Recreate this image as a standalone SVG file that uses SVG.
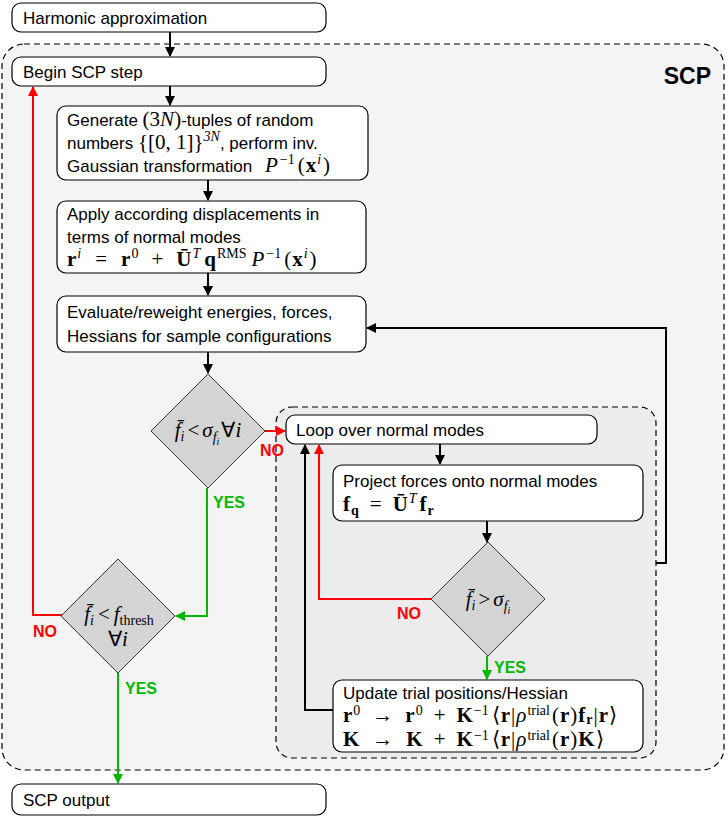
<svg xmlns="http://www.w3.org/2000/svg" width="728" height="818" viewBox="0 0 728 818">
<style>
.box{fill:#fff;stroke:#000;stroke-width:1.2}
.dia{fill:#d4d4d4;stroke:#333;stroke-width:1}
.t{font-family:"Liberation Sans",Arial,sans-serif;font-size:17px;fill:#000}
.m{font-family:"Liberation Serif","Times New Roman",serif;font-size:21px;fill:#000}
.i{font-style:italic}
.b{font-weight:bold}
.s{font-size:14px}
.lbl{font-family:"Liberation Sans",Arial,sans-serif;font-size:16px;font-weight:bold}
.k{fill:none;stroke:#000;stroke-width:2}
.r{fill:none;stroke:#ff0000;stroke-width:2}
.g{fill:none;stroke:#00b800;stroke-width:2}
</style>
<defs>
<marker id="ak" markerWidth="10" markerHeight="10" refX="9" refY="5" orient="auto" markerUnits="userSpaceOnUse"><path d="M0,0 L10,5 L0,10 z" fill="#000"/></marker>
<marker id="ar" markerWidth="10" markerHeight="10" refX="9" refY="5" orient="auto" markerUnits="userSpaceOnUse"><path d="M0,0 L10,5 L0,10 z" fill="#ff0000"/></marker>
<marker id="ag" markerWidth="10" markerHeight="10" refX="9" refY="5" orient="auto" markerUnits="userSpaceOnUse"><path d="M0,0 L10,5 L0,10 z" fill="#00b800"/></marker>
</defs>
<rect x="0" y="0" width="728" height="818" fill="#fff"/>

<g id="scp-region">
<rect x="2" y="44" width="722" height="726" rx="22" fill="#f4f4f4" stroke="#000" stroke-width="1.2" stroke-dasharray="6,4"/>
<text x="711" y="84" text-anchor="end" font-family="Liberation Sans,Arial,sans-serif" font-size="23" font-weight="bold">SCP</text>
</g>
<g id="loop-region">
<rect x="276" y="407" width="380" height="351" rx="16" fill="#ececec" stroke="#000" stroke-width="1.2" stroke-dasharray="6,4"/>
</g>

<g id="connectors">
<path class="k" d="M170,32 V56" marker-end="url(#ak)"/>
<path class="k" d="M170,86 V105" marker-end="url(#ak)"/>
<path class="k" d="M208,180 V200" marker-end="url(#ak)"/>
<path class="k" d="M208,273 V295" marker-end="url(#ak)"/>
<path class="k" d="M208,352 V373" marker-end="url(#ak)"/>
<path class="r" d="M265,431 H285" marker-end="url(#ar)"/>
<path class="g" d="M207,488 V616 H176" marker-end="url(#ag)"/>
<path class="r" d="M62,615 H33 V87" marker-end="url(#ar)"/>
<path class="g" d="M118,672 V783" marker-end="url(#ag)"/>
<path class="k" d="M440,444 V464" marker-end="url(#ak)"/>
<path class="k" d="M487,521 V542" marker-end="url(#ak)"/>
<path class="r" d="M431,599 H319 V445" marker-end="url(#ar)"/>
<path class="g" d="M487,656 V679" marker-end="url(#ag)"/>
<path class="k" d="M333,710 H305 V445" marker-end="url(#ak)"/>
<path class="k" d="M656,563 H666 V328 H367" marker-end="url(#ak)"/>
<text class="lbl" x="260" y="456" fill="#ff0000">NO</text>
<text class="lbl" x="213" y="508" fill="#00b800">YES</text>
<text class="lbl" x="33" y="637" fill="#ff0000">NO</text>
<text class="lbl" x="125" y="694" fill="#00b800">YES</text>
<text class="lbl" x="397" y="619" fill="#ff0000">NO</text>
<text class="lbl" x="494" y="673" fill="#00b800">YES</text>
</g>

<g id="harmonic">
<rect class="box" x="12" y="3" width="314" height="29" rx="9"/>
<text class="t" x="23" y="24">Harmonic approximation</text>
</g>
<g id="begin">
<rect class="box" x="12" y="57" width="314" height="29" rx="9"/>
<text class="t" x="23" y="78">Begin SCP step</text>
</g>
<g id="generate">
<rect class="box" x="57" y="106" width="311" height="74" rx="9"/>
<text class="t" x="67" y="126">Generate <tspan class="m">(3<tspan class="i">N</tspan>)</tspan>-tuples of random</text>
<text class="t" x="67" y="149">numbers <tspan class="m">{[0, 1]}<tspan class="i s" dy="-8">3N</tspan></tspan><tspan dy="8">, perform inv.</tspan></text>
<text class="t" x="67" y="172">Gaussian transformation <tspan class="m"><tspan class="i" dx="8">P</tspan><tspan class="s" dy="-8" dx="2">−1</tspan><tspan dy="8" dx="3">(</tspan><tspan class="b" dx="1">x</tspan><tspan class="i s" dy="-8" dx="1">i</tspan><tspan dy="8" dx="2">)</tspan></tspan></text>
</g>
<g id="apply">
<rect class="box" x="57" y="201" width="309" height="72" rx="9"/>
<text class="t" x="67" y="220">Apply according displacements in</text>
<text class="t" x="67" y="243">terms of normal modes</text>
<text class="m" x="67" y="266"><tspan class="b">r</tspan><tspan class="i s" dy="-8" dx="1">i</tspan><tspan dy="8" dx="14">=</tspan><tspan class="b" dx="14">r</tspan><tspan class="s" dy="-8" dx="1">0</tspan><tspan dy="8" dx="13">+</tspan><tspan class="b" dx="13">Ū</tspan><tspan class="i s" dy="-8" dx="1">T</tspan><tspan class="b" dy="8" dx="4">q</tspan><tspan class="s" dy="-8" dx="1">RMS</tspan><tspan class="i" dy="8" dx="5">P</tspan><tspan class="s" dy="-8" dx="2">−1</tspan><tspan dy="8" dx="3">(</tspan><tspan class="b" dx="1">x</tspan><tspan class="i s" dy="-8" dx="1">i</tspan><tspan dy="8" dx="2">)</tspan></text>
</g>
<g id="evaluate">
<rect class="box" x="57" y="296" width="309" height="56" rx="9"/>
<text class="t" x="67" y="318">Evaluate/reweight energies, forces,</text>
<text class="t" x="67" y="342">Hessians for sample configurations</text>
</g>
<g id="check-sigma">
<path class="dia" d="M208,374 L265,431 L208,488 L151,431 z"/>
<text class="m" x="208" y="437" text-anchor="middle" font-size="21"><tspan class="i">f̄</tspan><tspan class="i s" dy="4">i</tspan><tspan dy="-4" dx="3">&lt;</tspan><tspan class="i" dx="3">σ</tspan><tspan class="i s" dy="5">f</tspan><tspan class="i" font-size="10" dy="3">i</tspan><tspan dy="-8" dx="2">∀</tspan><tspan class="i">i</tspan></text>
</g>
<g id="check-thresh">
<path class="dia" d="M118,559 L175,616 L118,673 L61,616 z"/>
<text class="m" x="119" y="621" text-anchor="middle" font-size="21"><tspan class="i">f̄</tspan><tspan class="i s" dy="4">i</tspan><tspan dy="-4" dx="4">&lt;</tspan><tspan class="i" dx="4">f</tspan><tspan class="s" dy="4">thresh</tspan></text>
<text class="m" x="118" y="646" text-anchor="middle" font-size="21">∀<tspan class="i">i</tspan></text>
</g>
<g id="loop">
<rect class="box" x="286" y="415" width="311" height="29" rx="9"/>
<text class="t" x="296" y="436">Loop over normal modes</text>
</g>
<g id="project">
<rect class="box" x="333" y="465" width="310" height="56" rx="9"/>
<text class="t" x="343" y="487">Project forces onto normal modes</text>
<text class="m" x="343" y="511"><tspan class="b">f</tspan><tspan class="b s" dy="4" dx="1">q</tspan><tspan dy="-4" dx="11">=</tspan><tspan class="b" dx="11">Ū</tspan><tspan class="i s" dy="-8" dx="1">T</tspan><tspan class="b" dy="8" dx="3">f</tspan><tspan class="b s" dy="4" dx="1">r</tspan></text>
</g>
<g id="check-mode">
<path class="dia" d="M488,542 L545,599 L488,656 L431,599 z"/>
<text class="m" x="488" y="606" text-anchor="middle" font-size="21"><tspan class="i">f̄</tspan><tspan class="i s" dy="4">i</tspan><tspan dy="-4" dx="3">&gt;</tspan><tspan class="i" dx="3">σ</tspan><tspan class="i s" dy="5">f</tspan><tspan class="i" font-size="10" dy="3">i</tspan></text>
</g>
<g id="update">
<rect class="box" x="333" y="680" width="310" height="72" rx="9"/>
<text class="t" x="343" y="699">Update trial positions/Hessian</text>
<text class="m" x="343" y="722" font-size="20"><tspan class="b">r</tspan><tspan class="s" dy="-7" dx="1">0</tspan><tspan dy="7" dx="12">→</tspan><tspan class="b" dx="12">r</tspan><tspan class="s" dy="-7" dx="1">0</tspan><tspan dy="7" dx="11">+</tspan><tspan class="b" dx="11">K</tspan><tspan class="s" dy="-7" dx="1">−1</tspan><tspan dy="7" dx="3">⟨</tspan><tspan class="b" dx="1">r</tspan><tspan dx="1">|</tspan><tspan class="i" dx="1">ρ</tspan><tspan class="s" dy="-7" dx="1">trial</tspan><tspan dy="7" dx="2">(</tspan><tspan class="b" dx="1">r</tspan><tspan dx="1">)</tspan><tspan class="b" dx="1">f</tspan><tspan class="b s" dy="2" dx="1">r</tspan><tspan dy="-2" dx="1">|</tspan><tspan class="b" dx="1">r</tspan><tspan dx="1">⟩</tspan></text>
<text class="m" x="343" y="746" font-size="20"><tspan class="b">K</tspan><tspan dx="13">→</tspan><tspan class="b" dx="13">K</tspan><tspan dx="11">+</tspan><tspan class="b" dx="11">K</tspan><tspan class="s" dy="-6" dx="1">−1</tspan><tspan dy="6" dx="3">⟨</tspan><tspan class="b" dx="1">r</tspan><tspan dx="1">|</tspan><tspan class="i" dx="1">ρ</tspan><tspan class="s" dy="-6" dx="1">trial</tspan><tspan dy="6" dx="2">(</tspan><tspan class="b" dx="1">r</tspan><tspan dx="1">)</tspan><tspan class="b" dx="1">K</tspan><tspan dx="1">⟩</tspan></text>
</g>
<g id="output">
<rect class="box" x="12" y="784" width="314" height="31" rx="9"/>
<text class="t" x="23" y="806">SCP output</text>
</g>
</svg>
